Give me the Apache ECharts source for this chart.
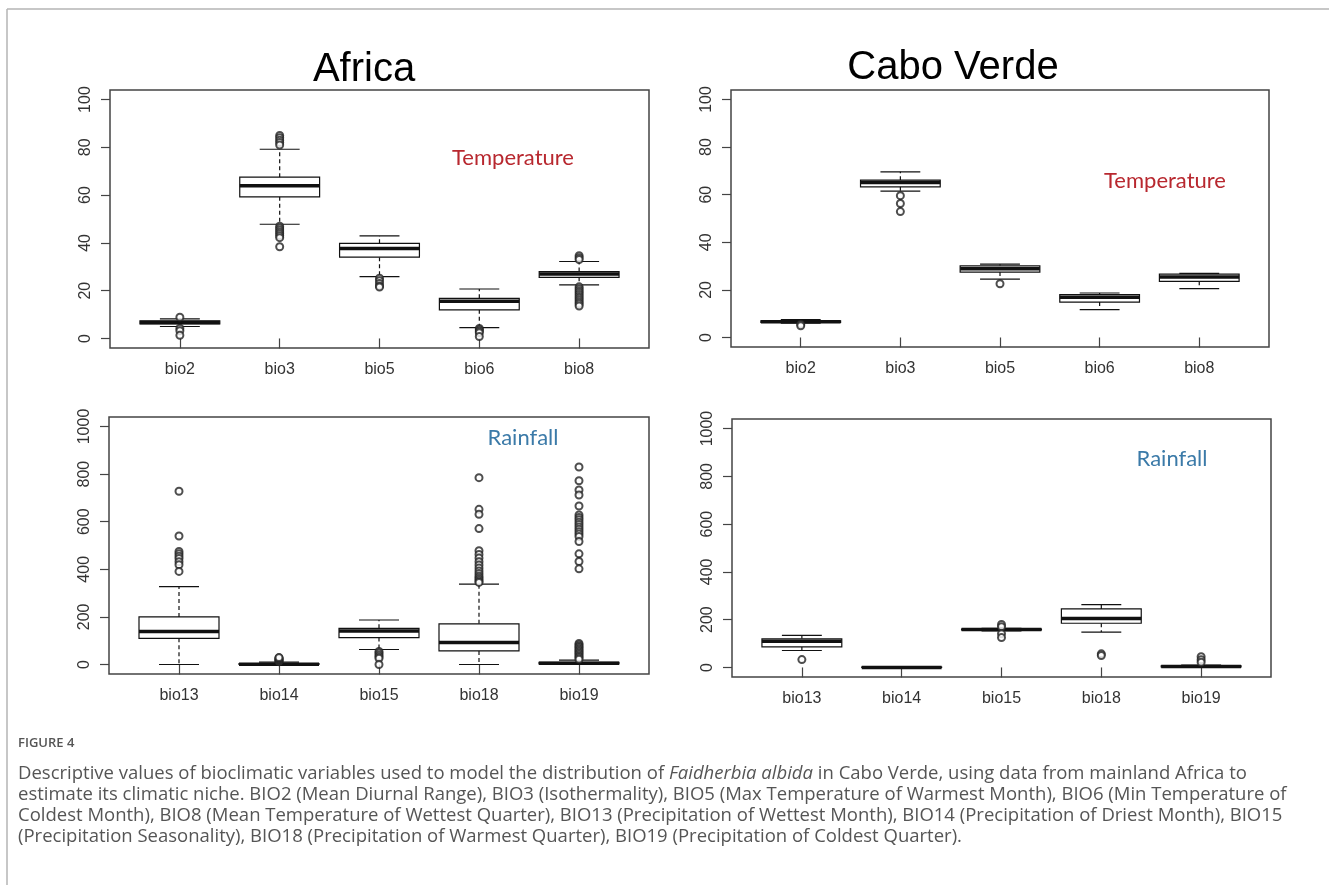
<!DOCTYPE html>
<html>
<head>
<meta charset="utf-8">
<script src="https://cdn.jsdelivr.net/npm/echarts@6/dist/echarts.min.js"></script>
<style>
  html, body { margin: 0; padding: 0; background: #fff; }
  #chart { width: 1329px; height: 885px; }
</style>
</head>
<body>
<div id="chart"></div>
<script>
// categories and tick labels
var tempCats = ['bio2', 'bio3', 'bio5', 'bio6', 'bio8'];
var rainCats = ['bio13', 'bio14', 'bio15', 'bio18', 'bio19'];
var tempTicks = [0, 20, 40, 60, 80, 100];
var rainTicks = [0, 200, 400, 600, 800, 1000];

// boxes: [lower whisker, Q1, median, Q3, upper whisker]
var africaTempBoxes = [
    [5.0, 6.1, 6.7, 7.4, 8.2],
    [47.8, 59.3, 63.9, 67.5, 79.2],
    [25.9, 34.0, 37.7, 39.8, 42.9],
    [4.5, 12.0, 15.6, 16.8, 20.7],
    [22.4, 25.6, 27.0, 28.0, 32.2]
];
var africaTempOutliers = [
    [8.9, 4.3, 3.2, 1.3],
    [85, 84, 83, 82, 81, 47, 46.2, 45.4, 44.6, 43.8, 43, 42.2, 38.4],
    [25.2, 24.2, 23, 22, 21.5],
    [4.2, 3.6, 3.0, 2.4, 0.8],
    [34.6, 33.8, 33.0, 21.6, 20.8, 20, 19.2, 18.4, 17.6, 16.8, 16, 15.2, 14.4, 13.6]
];

var caboTempBoxes = [
    [6.0, 6.3, 6.6, 7.0, 7.5],
    [61.5, 63.3, 65.1, 66.1, 69.6],
    [24.5, 27.5, 28.9, 30.1, 30.8],
    [11.7, 14.9, 16.9, 18.0, 18.7],
    [20.5, 23.6, 25.4, 26.6, 26.9]
];
var caboTempOutliers = [[5.6, 4.9], [59.6, 56.3, 52.9], [22.6], [], []];

var africaRainBoxes = [
    [0, 110, 139, 200, 327],
    [0, 0, 1, 4, 10],
    [63, 113, 141, 152, 187],
    [0, 57, 92, 171, 338],
    [0, 2, 5, 9, 18]
];
var africaRainOutliers = [
    [728, 540, 475, 465, 455, 445, 432, 419, 391],
    [12, 15, 18, 21, 24, 27, 29],
    [55, 48, 40, 33, 26, 0],
    [785, 652, 631, 571, 478, 462, 447, 432, 418, 405, 393, 382, 372, 364, 357, 350, 345],
    [830, 772, 733, 712, 666, 628, 618, 608, 598, 588, 578, 568, 558, 548, 538, 517, 465, 433, 402,
     88, 82, 76, 70, 64, 58, 52, 46, 40, 34, 28, 22]
];

var caboRainBoxes = [
    [71, 86, 110, 120, 134],
    [0, 0, 0, 1, 2],
    [153, 157, 159, 161, 164],
    [148, 185, 205, 245, 263],
    [0, 2, 4, 7, 10]
];
var caboRainOutliers = [[33], [], [180, 170, 141, 125], [57, 50], [45, 32, 22]];

var panels = [
    { cats: tempCats, ticks: tempTicks, boxes: africaTempBoxes, outliers: africaTempOutliers, grid: { left: 110, top: 90, width: 539, height: 258 } },
    { cats: tempCats, ticks: tempTicks, boxes: caboTempBoxes, outliers: caboTempOutliers, grid: { left: 731, top: 90, width: 538, height: 257 } },
    { cats: rainCats, ticks: rainTicks, boxes: africaRainBoxes, outliers: africaRainOutliers, grid: { left: 109, top: 417, width: 540, height: 257 } },
    { cats: rainCats, ticks: rainTicks, boxes: caboRainBoxes, outliers: caboRainOutliers, grid: { left: 732, top: 419, width: 539, height: 258 } }
];

var ink = '#111';
var axisGray = '#444';
var labelFont = 'Liberation Sans, Arial, sans-serif';

function renderBox(params, api) {
    var x = api.value(0);
    var lo = api.coord([x, api.value(1)]);
    var q1 = api.coord([x, api.value(2)]);
    var md = api.coord([x, api.value(3)]);
    var q3 = api.coord([x, api.value(4)]);
    var hi = api.coord([x, api.value(5)]);
    var bw = api.size([0.8, 0])[0];
    var cw = bw / 2;
    var cx = md[0];
    function ln(x1, y1, x2, y2, extra) {
        var style = { stroke: ink, lineWidth: 1.2 };
        for (var k in extra) style[k] = extra[k];
        return { type: 'line', shape: { x1: x1, y1: y1, x2: x2, y2: y2 }, style: style };
    }
    return {
        type: 'group',
        children: [
            ln(cx, q3[1], cx, hi[1], { lineDash: [4, 3] }),
            ln(cx, q1[1], cx, lo[1], { lineDash: [4, 3] }),
            ln(cx - cw / 2, hi[1], cx + cw / 2, hi[1], {}),
            ln(cx - cw / 2, lo[1], cx + cw / 2, lo[1], {}),
            {
                type: 'rect',
                shape: { x: cx - bw / 2, y: q3[1], width: bw, height: q1[1] - q3[1] },
                style: { fill: '#fff', stroke: ink, lineWidth: 1.2 }
            },
            ln(cx - bw / 2, md[1], cx + bw / 2, md[1], { lineWidth: 3.5 })
        ]
    };
}

var grids = [], xAxes = [], yAxes = [], series = [];
panels.forEach(function (p, i) {
    grids.push({
        left: p.grid.left, top: p.grid.top, width: p.grid.width, height: p.grid.height,
        show: true, borderColor: axisGray, borderWidth: 1.5, backgroundColor: 'transparent'
    });
    var top = p.ticks[p.ticks.length - 1];
    var pad = top * 0.04;
    xAxes.push({
        type: 'value', gridIndex: i, min: 0.3, max: 5.7,
        axisLine: { show: false },
        splitLine: { show: false },
        axisTick: { show: true, length: 10, customValues: [1, 2, 3, 4, 5], lineStyle: { color: axisGray, width: 1.2 } },
        axisLabel: {
            customValues: [1, 2, 3, 4, 5], margin: 14,
            color: '#333', fontSize: 16, fontFamily: labelFont,
            formatter: (function (cats) { return function (v) { return cats[Math.round(v) - 1]; }; })(p.cats)
        }
    });
    yAxes.push({
        type: 'value', gridIndex: i, min: -pad, max: top + pad,
        axisLine: { show: false },
        splitLine: { show: false },
        axisTick: { show: true, length: 9, customValues: p.ticks, lineStyle: { color: axisGray, width: 1.2 } },
        axisLabel: {
            customValues: p.ticks, rotate: 90, margin: 16,
            color: '#333', fontSize: 16, fontFamily: labelFont,
            formatter: function (v) { return String(Math.round(v)); }
        }
    });
    series.push({
        type: 'custom', xAxisIndex: i, yAxisIndex: i,
        renderItem: renderBox,
        encode: { x: 0, y: [1, 2, 3, 4, 5] },
        data: p.boxes.map(function (b, j) { return [j + 1].concat(b); }),
        z: 2
    });
    var pts = [];
    p.outliers.forEach(function (arr, j) {
        arr.forEach(function (v) { pts.push([j + 1, v]); });
    });
    series.push({
        type: 'scatter', xAxisIndex: i, yAxisIndex: i,
        symbol: 'emptyCircle', symbolSize: 7,
        itemStyle: { color: '#222', borderColor: '#222', borderWidth: 1.1 },
        data: pts, z: 3, silent: true
    });
});

var tempRed = '#b8282f';
var rainBlue = '#3b7aa8';
var captionFont = 'Open Sans, sans-serif';

var chart = echarts.init(document.getElementById('chart'));
chart.setOption({
    backgroundColor: '#fff',
    animation: false,
    grid: grids,
    xAxis: xAxes,
    yAxis: yAxes,
    series: series,
    graphic: [
        { type: 'line', shape: { x1: 7, y1: 9, x2: 1329, y2: 9 }, style: { stroke: '#b5b5b5', lineWidth: 1.5 } },
        { type: 'line', shape: { x1: 7, y1: 9, x2: 7, y2: 885 }, style: { stroke: '#b5b5b5', lineWidth: 1.5 } },
        { type: 'text', x: 364, y: 70, style: { text: 'Africa', fill: '#000', fontSize: 40, fontFamily: labelFont, align: 'center', verticalAlign: 'middle' } },
        { type: 'text', x: 953, y: 68, style: { text: 'Cabo Verde', fill: '#000', fontSize: 40, fontFamily: labelFont, align: 'center', verticalAlign: 'middle' } },
        { type: 'text', x: 513, y: 158, style: { text: 'Temperature', fill: tempRed, fontSize: 22, fontFamily: 'Lato, sans-serif', align: 'center', verticalAlign: 'middle' } },
        { type: 'text', x: 1165, y: 181, style: { text: 'Temperature', fill: tempRed, fontSize: 22, fontFamily: 'Lato, sans-serif', align: 'center', verticalAlign: 'middle' } },
        { type: 'text', x: 523, y: 438, style: { text: 'Rainfall', fill: rainBlue, fontSize: 22, fontFamily: 'Lato, sans-serif', align: 'center', verticalAlign: 'middle' } },
        { type: 'text', x: 1172, y: 459, style: { text: 'Rainfall', fill: rainBlue, fontSize: 22, fontFamily: 'Lato, sans-serif', align: 'center', verticalAlign: 'middle' } },
        { type: 'text', x: 18, y: 743, style: { text: 'FIGURE 4', fill: '#555', fontSize: 13, fontWeight: 600, fontFamily: captionFont, verticalAlign: 'middle' } },
        {
            type: 'text', x: 18, y: 763,
            style: {
                text: 'Descriptive values of bioclimatic variables used to model the distribution of {i|Faidherbia albida} in Cabo Verde, using data from mainland Africa to\n' +
                      'estimate its climatic niche. BIO2 (Mean Diurnal Range), BIO3 (Isothermality), BIO5 (Max Temperature of Warmest Month), BIO6 (Min Temperature of\n' +
                      'Coldest Month), BIO8 (Mean Temperature of Wettest Quarter), BIO13 (Precipitation of Wettest Month), BIO14 (Precipitation of Driest Month), BIO15\n' +
                      '(Precipitation Seasonality), BIO18 (Precipitation of Warmest Quarter), BIO19 (Precipitation of Coldest Quarter).',
                fill: '#555', fontSize: 18.5, fontFamily: captionFont, lineHeight: 21, verticalAlign: 'top',
                rich: { i: { fontStyle: 'italic', fontSize: 18.5, fontFamily: captionFont, fill: '#555', lineHeight: 21 } }
            }
        }
    ]
});
</script>
</body>
</html>
